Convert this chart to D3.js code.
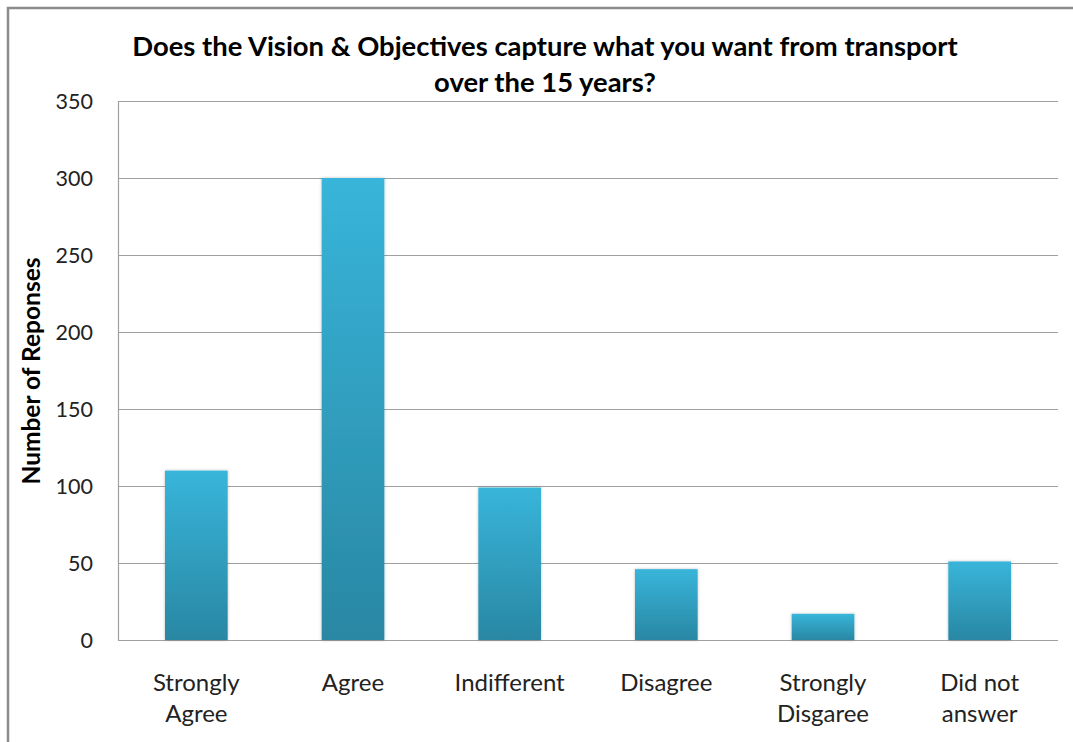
<!DOCTYPE html>
<html>
<head>
<meta charset="utf-8">
<script src="https://cdn.jsdelivr.net/npm/d3@7"></script>
<style>
  body { margin: 0; background: #fff; }
  svg { display: block; font-family: Lato, "Open Sans", sans-serif; }
</style>
</head>
<body>
<div id="chart"></div>
<script>
// Chart data
const categories = [["Strongly", "Agree"], ["Agree"], ["Indifferent"], ["Disagree"], ["Strongly", "Disgaree"], ["Did not", "answer"]];
const responses = [110, 300, 99, 46, 17, 51];
const yTicks = [0, 50, 100, 150, 200, 250, 300, 350];
const titleLines = ["Does the Vision & Objectives capture what you want from transport", "over the 15 years?"];

const width = 1073, height = 742;
const margin = { top: 101, right: 15, bottom: 102, left: 118 };

const svg = d3.select("#chart").append("svg")
  .attr("width", width)
  .attr("height", height);

// Outer chart frame (only left and top visible in the picture)
svg.append("path")
  .attr("d", `M8,${height} V8 H${width}`)
  .attr("fill", "none")
  .attr("stroke", "#8c8c8c")
  .attr("stroke-width", 2.5);

// Bar gradient
const grad = svg.append("defs").append("linearGradient")
  .attr("id", "barGrad")
  .attr("x1", 0).attr("y1", 0).attr("x2", 0).attr("y2", 1);
grad.append("stop").attr("offset", "0%").attr("stop-color", "#38b5da");
grad.append("stop").attr("offset", "100%").attr("stop-color", "#2987a3");

const x = d3.scaleBand()
  .domain(d3.range(categories.length))
  .range([margin.left, width - margin.right])
  .paddingInner(0.6)
  .paddingOuter(0.3);

const y = d3.scaleLinear()
  .domain([0, 350])
  .range([height - margin.bottom, margin.top]);

// Gridlines
svg.append("g")
  .selectAll("line")
  .data(yTicks)
  .join("line")
  .attr("x1", margin.left)
  .attr("x2", width - margin.right)
  .attr("y1", d => y(d) + 0.5)
  .attr("y2", d => y(d) + 0.5)
  .attr("stroke", "#a0a0a0")
  .attr("stroke-width", 1.2);

// Left axis line
svg.append("line")
  .attr("x1", margin.left + 0.5).attr("x2", margin.left + 0.5)
  .attr("y1", y(350)).attr("y2", y(0))
  .attr("stroke", "#a0a0a0")
  .attr("stroke-width", 1.2);

// Tick labels
svg.append("g")
  .attr("font-size", 21.5)
  .attr("fill", "#222")
  .attr("text-anchor", "end")
  .selectAll("text")
  .data(yTicks)
  .join("text")
  .attr("x", 93)
  .attr("y", d => y(d))
  .attr("dy", "0.35em")
  .text(d => d);

// Bars, with a soft shadow
const shadow = svg.select("defs").append("filter")
  .attr("id", "shadow")
  .attr("x", "-20%").attr("y", "-20%").attr("width", "140%").attr("height", "140%");
shadow.append("feDropShadow")
  .attr("dx", 0).attr("dy", 0).attr("stdDeviation", 1.5)
  .attr("flood-color", "#000").attr("flood-opacity", 0.25);

svg.append("g")
  .selectAll("rect")
  .data(responses)
  .join("rect")
  .attr("x", (d, i) => x(i))
  .attr("y", d => y(d))
  .attr("width", x.bandwidth())
  .attr("height", d => y(0) - y(d))
  .attr("fill", "url(#barGrad)")
  .attr("filter", "url(#shadow)");

// Category labels
svg.append("g")
  .attr("font-size", 24)
  .attr("fill", "#222")
  .attr("text-anchor", "middle")
  .selectAll("text")
  .data(categories)
  .join("text")
  .attr("x", (d, i) => x(i) + x.bandwidth() / 2)
  .attr("y", 691)
  .selectAll("tspan")
  .data(d => d)
  .join("tspan")
  .attr("x", function() { return d3.select(this.parentNode).attr("x"); })
  .attr("dy", (d, i) => i ? 31 : 0)
  .text(d => d);

// Title
svg.append("g")
  .attr("font-size", 27.4)
  .attr("font-weight", "bold")
  .attr("fill", "#000")
  .attr("text-anchor", "middle")
  .selectAll("text")
  .data(titleLines)
  .join("text")
  .attr("x", 545)
  .attr("y", (d, i) => 56 + i * 36)
  .text(d => d);

// Y axis label
svg.append("text")
  .attr("transform", "translate(40,371) rotate(-90)")
  .attr("text-anchor", "middle")
  .attr("font-size", 24.5)
  .attr("font-weight", "bold")
  .attr("fill", "#000")
  .text("Number of Reponses");
</script>
</body>
</html>
